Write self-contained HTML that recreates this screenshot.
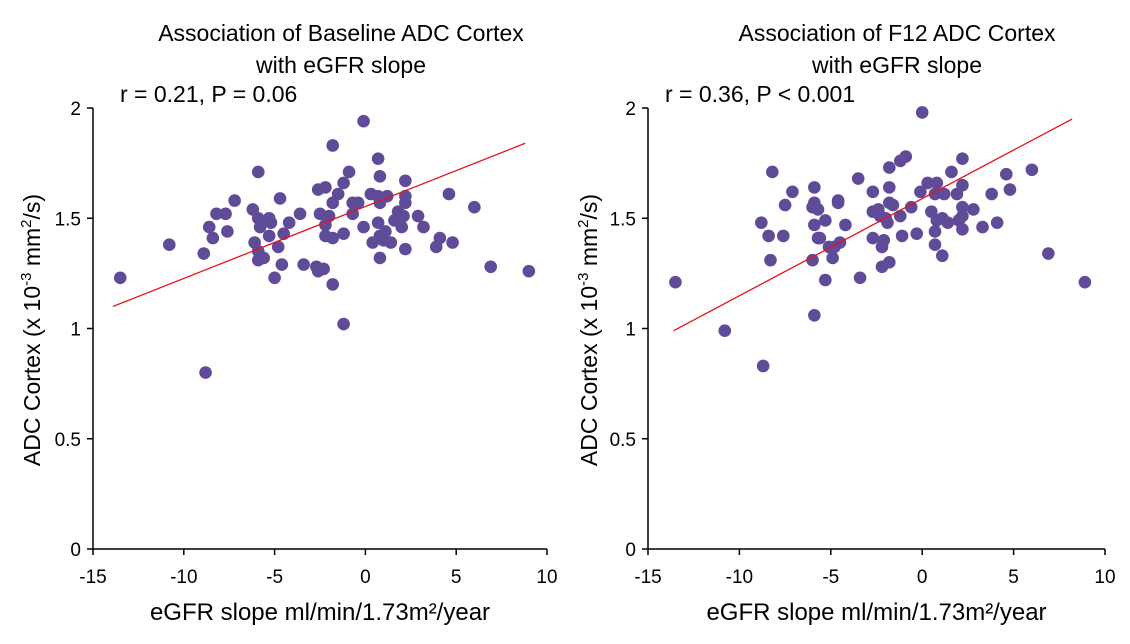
<!DOCTYPE html>
<html><head><meta charset="utf-8"><style>
body{margin:0;background:#fff;}
svg text{font-family:"Liberation Sans",sans-serif;fill:#000;}
</style></head><body>
<svg id="c" width="1130" height="639" xmlns="http://www.w3.org/2000/svg"></svg>
<script>
const xTicks=[-15,-10,-5,0,5,10];
const yTicks=[0,0.5,1,1.5,2];
const yTickLabels=["0","0.5","1","1.5","2"];
const leftX=[-13.5,-10.8,-8.9,-8.8,-8.6,-8.4,-7.6,-8.2,-7.7,-7.2,-5.9,-6.2,-5.9,-5.8,-5.3,-5.2,-5.3,-6.1,-5.9,-5.9,-5.6,-5.0,-4.6,-4.8,-4.5,-4.2,-4.7,-3.6,-3.4,-2.7,-2.6,-2.3,-1.8,-1.2,-2.6,-2.2,-1.8,-1.5,-1.8,-1.2,-0.9,-2.5,-2.0,-2.2,-2.2,-1.8,-1.2,-0.7,-0.4,-0.7,-0.1,-0.1,0.7,0.8,0.3,0.7,1.2,0.8,0.7,1.1,0.8,0.4,1.0,1.4,0.8,2.2,2.2,2.2,1.8,2.1,1.6,2.0,2.9,2.2,3.2,3.9,4.1,4.8,4.6,6.0,6.9,9.0];
const leftY=[1.23,1.38,1.34,0.80,1.46,1.41,1.44,1.52,1.52,1.58,1.71,1.54,1.50,1.46,1.50,1.48,1.42,1.39,1.35,1.31,1.32,1.23,1.29,1.37,1.43,1.48,1.59,1.52,1.29,1.28,1.26,1.27,1.20,1.02,1.63,1.64,1.83,1.61,1.57,1.66,1.71,1.52,1.51,1.47,1.42,1.41,1.43,1.57,1.57,1.52,1.46,1.94,1.77,1.69,1.61,1.60,1.60,1.57,1.48,1.44,1.42,1.39,1.40,1.39,1.32,1.67,1.60,1.57,1.53,1.51,1.49,1.46,1.51,1.36,1.46,1.37,1.41,1.39,1.61,1.55,1.28,1.26];
const leftTrendX=[-13.9,8.8];
const leftTrendY=[1.10,1.84];
const rightX=[-13.5,-10.8,-8.7,-8.2,-7.1,-7.5,-8.8,-8.4,-7.6,-8.3,-5.9,-5.9,-6.0,-5.7,-5.9,-5.3,-5.7,-5.6,-6.0,-5.3,-5.9,-4.6,-4.6,-4.2,-4.5,-5.1,-4.8,-4.9,-3.5,-3.4,-2.7,-2.7,-2.4,-2.3,-2.0,-2.7,-2.1,-2.2,-2.2,-1.8,-1.8,-1.2,-0.9,-1.8,-1.8,-1.6,-1.2,-1.9,-1.1,-0.3,-0.6,0,-0.1,0.3,0.8,0.7,1.2,0.5,0.8,1.1,1.4,0.7,0.7,1.1,1.6,2.2,2.2,1.9,2.2,2.2,2.0,2.2,2.8,3.3,3.8,4.1,4.6,4.8,6.0,6.9,8.9];
const rightY=[1.21,0.99,0.83,1.71,1.62,1.56,1.48,1.42,1.42,1.31,1.64,1.57,1.55,1.54,1.47,1.49,1.41,1.41,1.31,1.22,1.06,1.58,1.57,1.47,1.39,1.37,1.37,1.32,1.68,1.23,1.62,1.53,1.54,1.51,1.50,1.41,1.40,1.37,1.28,1.30,1.73,1.76,1.78,1.64,1.57,1.56,1.51,1.48,1.42,1.43,1.55,1.98,1.62,1.66,1.66,1.61,1.61,1.53,1.49,1.50,1.48,1.44,1.38,1.33,1.71,1.77,1.65,1.61,1.55,1.51,1.49,1.45,1.54,1.46,1.61,1.48,1.70,1.63,1.72,1.34,1.21];
const rightTrendX=[-13.6,8.2];
const rightTrendY=[0.99,1.95];

const svg=document.getElementById('c');
const NS='http://www.w3.org/2000/svg';
function mk(tag,attrs,parent){const e=document.createElementNS(NS,tag);for(const k in attrs)e.setAttribute(k,attrs[k]);(parent||svg).appendChild(e);return e;}
function txt(s,attrs,parent){const e=mk('text',attrs,parent);e.textContent=s;return e;}

function panel(id,x0,x1,titleLines,titleCx,annot,annotX,yTitleX,xs,ys,tx,ty){
  const y0=549,y1=108;
  const sx=v=>x0+(v+15)/25*(x1-x0);
  const sy=v=>y0-v/2*(y0-y1);
  const g=mk('g',{});
  
  
  titleLines.forEach((l,i)=>{const t=txt(l,{x:titleCx,y:41+i*32,'text-anchor':'middle','font-size':23},g);
    
    });
  const a=txt(annot,{x:annotX,y:102,'font-size':23},g);
  
  
  const ax=mk('path',{d:`M${x0},${y1}V${y0}H${x1}`,stroke:'#000','stroke-width':1.5,fill:'none'},g);
  
  
  yTicks.forEach((v,i)=>{mk('line',{x1:x0-6,x2:x0,y1:sy(v),y2:sy(v),stroke:'#000','stroke-width':1.5},g);
    const t=txt(yTickLabels[i],{x:x0-12,y:sy(v)+7,'text-anchor':'end','font-size':19},g);
    
    });
  xTicks.forEach(v=>{mk('line',{x1:sx(v),x2:sx(v),y1:y0,y2:y0+6,stroke:'#000','stroke-width':1.5},g);
    const t=txt(String(v),{x:sx(v),y:y0+34,'text-anchor':'middle','font-size':19},g);
    
    });
  const yt=txt('',{x:0,y:0,'text-anchor':'middle','font-size':23,transform:`translate(${yTitleX},330) rotate(-90)`},g);
  yt.innerHTML='ADC Cortex (x 10<tspan dy="-9" font-size="15">-3</tspan><tspan dy="9"> mm</tspan><tspan dy="-9" font-size="15">2</tspan><tspan dy="9">/s)</tspan>';
  
  
  const xt=txt('eGFR slope ml/min/1.73m²/year',{x:(x0+x1)/2,y:620,'text-anchor':'middle','font-size':24},g);
  
  
  xs.forEach((v,i)=>{const c=mk('circle',{cx:sx(v),cy:sy(ys[i]),r:6.3,fill:'#5f4b98'},g);
    
    });
  const tl=mk('line',{x1:sx(tx[0]),y1:sy(ty[0]),x2:sx(tx[1]),y2:sy(ty[1]),stroke:'#e8121b','stroke-width':1.3},g);
  
  
}
panel('baseline',93,547,['Association of Baseline ADC Cortex','with eGFR slope'],341,'r = 0.21, P = 0.06',120,40,leftX,leftY,leftTrendX,leftTrendY);
panel('f12',648,1105,['Association of F12 ADC Cortex','with eGFR slope'],897,'r = 0.36, P < 0.001',665,597,rightX,rightY,rightTrendX,rightTrendY);
</script>
</body></html>
